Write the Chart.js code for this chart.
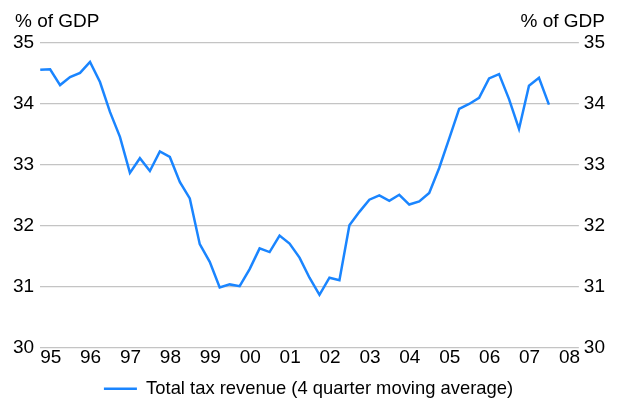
<!DOCTYPE html>
<html lang="en">
<head>
  <meta charset="UTF-8" />
  <title>Total tax revenue</title>
  <script src="https://cdn.jsdelivr.net/npm/chart.js"></script>
  <style>
    body { margin: 0; background: #fff; }
    #wrap { width: 620px; height: 401px; }
  </style>
</head>
<body>
  <div id="wrap"><canvas id="taxChart"></canvas></div>

  <script>
    // quarterly, 1995 Q1 .. 2007 Q4, % of GDP
    const startYear = 1995;
    const taxRevenue = [
      34.56, 34.57, 34.31, 34.44, 34.51, 34.69, 34.36, 33.87, 33.46, 32.87,
      33.11, 32.90, 33.22, 33.13, 32.72, 32.45, 31.70, 31.41, 30.99, 31.04,
      31.01, 31.29, 31.63, 31.57, 31.84, 31.71, 31.48, 31.15, 30.87, 31.15,
      31.11, 32.01, 32.23, 32.43, 32.50, 32.41, 32.51, 32.35, 32.40, 32.54,
      32.95, 33.43, 33.92, 34.00, 34.10, 34.42, 34.49, 34.08, 33.59, 34.30,
      34.43, 33.99
    ];
    const yearTicks = [1995, 1996, 1997, 1998, 1999, 2000, 2001, 2002, 2003, 2004, 2005, 2006, 2007, 2008];
    const yearLabels = ['95', '96', '97', '98', '99', '00', '01', '02', '03', '04', '05', '06', '07', '08'];
    const yTicks = [30, 31, 32, 33, 34, 35];
    const seriesName = 'Total tax revenue (4 quarter moving average)';
    const unitLabel = '% of GDP';

    const points = taxRevenue.map((v, i) => ({ x: startYear + i / 4, y: v }));

    const FONT = '"Liberation Sans", Arial, sans-serif';
    const SIZE = 19;
    const BLUE = '#1a85ff';

    const unitTitles = {
      id: 'unitTitles',
      afterDraw(chart) {
        const ctx = chart.ctx;
        ctx.save();
        ctx.font = SIZE + 'px ' + FONT;
        ctx.fillStyle = '#000';
        ctx.textBaseline = 'alphabetic';
        ctx.textAlign = 'left';
        ctx.fillText(unitLabel, 15, 27);
        ctx.textAlign = 'right';
        ctx.fillText(unitLabel, chart.width - 15, 27);
        ctx.restore();
      }
    };

    new Chart(document.getElementById('taxChart'), {
      type: 'line',
      data: {
        datasets: [{
          label: seriesName,
          data: points,
          borderColor: BLUE,
          backgroundColor: BLUE,
          borderWidth: 2.5,
          pointRadius: 0,
          tension: 0,
          yAxisID: 'y'
        }]
      },
      options: {
        responsive: true,
        maintainAspectRatio: false,
        animation: false,
        layout: { padding: { top: 43, left: 7, right: 10, bottom: -7 } },
        plugins: {
          legend: {
            position: 'bottom',
            labels: {
              color: '#000',
              font: { family: FONT, size: 18.4 },
              boxWidth: 33,
              boxHeight: 0,
              padding: 2
            }
          },
          tooltip: { enabled: false }
        },
        scales: {
          x: {
            type: 'linear',
            min: 1995,
            max: 2008.5,
            grid: { display: false },
            border: { display: false },
            afterBuildTicks: axis => { axis.ticks = yearTicks.map(v => ({ value: v })); },
            afterFit: axis => { axis.height += 17; },
            ticks: {
              align: 'start',
              maxRotation: 0,
              autoSkip: false,
              padding: -9,
              color: '#000',
              font: { family: FONT, size: SIZE },
              callback: v => yearLabels[yearTicks.indexOf(v)]
            }
          },
          y: {
            position: 'left',
            min: 30,
            max: 35,
            afterBuildTicks: axis => { axis.ticks = yTicks.map(v => ({ value: v })); },
            grid: { color: '#c4c4c4', lineWidth: 1.2, drawTicks: false },
            border: { display: false },
            ticks: { padding: 6, color: '#000', font: { family: FONT, size: SIZE } }
          },
          y2: {
            position: 'right',
            min: 30,
            max: 35,
            afterBuildTicks: axis => { axis.ticks = yTicks.map(v => ({ value: v })); },
            grid: { display: false, drawTicks: false },
            border: { display: false },
            ticks: { padding: 5, color: '#000', font: { family: FONT, size: SIZE } }
          }
        }
      },
      plugins: [unitTitles]
    });
  </script>
</body>
</html>
